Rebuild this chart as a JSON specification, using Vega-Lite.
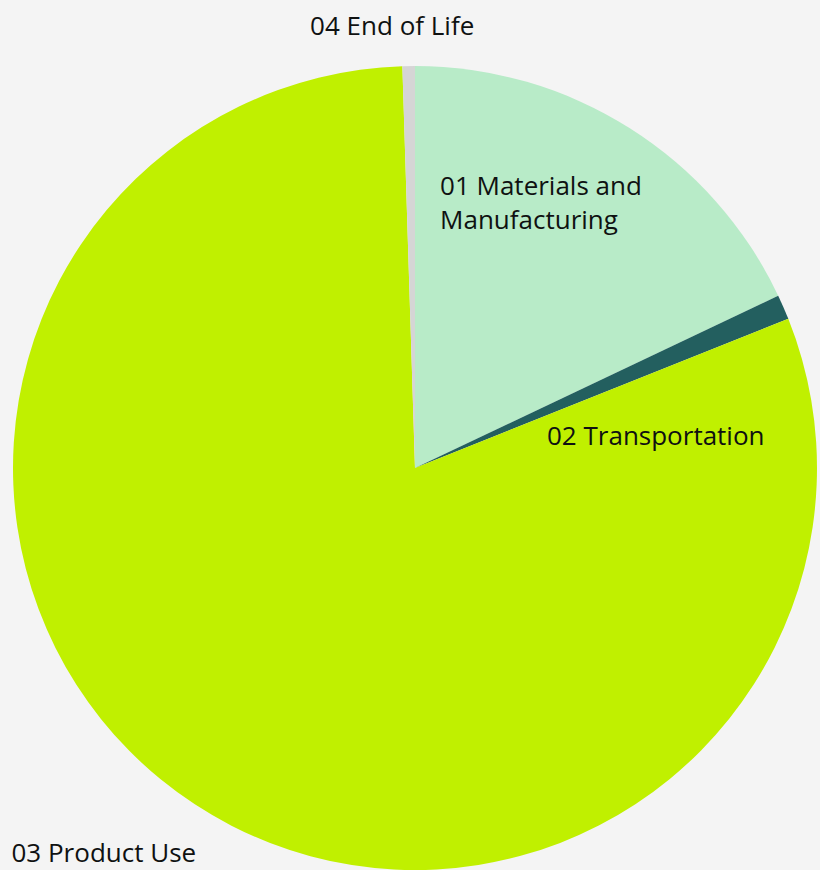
{
  "$schema": "https://vega.github.io/schema/vega-lite/v6.json",
  "width": 810,
  "height": 804,
  "autosize": "none",
  "padding": {"left": 10, "top": 66, "right": 0, "bottom": 0},
  "background": "#f4f4f4",
  "config": {"view": {"stroke": null}, "text": {"font": "Open Sans", "fontSize": 26, "color": "#0f1111"}},
  "data": {
    "values": [
      {"category": "01 Materials and Manufacturing", "share": 17.95},
      {"category": "02 Transportation", "share": 1.0},
      {"category": "03 Product Use", "share": 80.55},
      {"category": "04 End of Life", "share": 0.5}
    ]
  },
  "transform": [
    {"stack": "share", "groupby": [], "sort": [{"field": "category", "order": "ascending"}], "as": ["s0", "s1"]},
    {"calculate": "(datum.s0 + datum.s1) / 2", "as": "smid"},
    {"calculate": "datum.category === '01 Materials and Manufacturing' ? ['01 Materials and', 'Manufacturing'] : datum.category", "as": "label"}
  ],
  "layer": [
    {
      "mark": {"type": "arc", "outerRadius": 402, "stroke": null},
      "encoding": {
        "theta": {"field": "s0", "type": "quantitative", "scale": {"domain": [0, 100], "range": [0, 6.283185307179586]}},
        "theta2": {"field": "s1"},
        "color": {
          "field": "category",
          "type": "nominal",
          "scale": {
            "domain": ["01 Materials and Manufacturing", "02 Transportation", "03 Product Use", "04 End of Life"],
            "range": ["#b8ebc8", "#235f5f", "#c0f000", "#d5d5d5"]
          },
          "legend": null
        }
      }
    },
    {
      "transform": [{"filter": "datum.category === '01 Materials and Manufacturing'"}],
      "mark": {"type": "text", "radius": 323, "align": "left", "baseline": "alphabetic", "dx": -147.6, "lineHeight": 34},
      "encoding": {
        "theta": {"field": "smid", "type": "quantitative", "scale": {"domain": [0, 100], "range": [0, 6.283185307179586]}},
        "text": {"field": "label"}
      }
    },
    {
      "transform": [{"filter": "datum.category === '02 Transportation'"}],
      "mark": {"type": "text", "radius": 57.5, "align": "left", "baseline": "alphabetic", "dx": 79.3},
      "encoding": {
        "theta": {"field": "smid", "type": "quantitative", "scale": {"domain": [0, 100], "range": [0, 6.283185307179586]}},
        "text": {"field": "label"}
      }
    },
    {
      "transform": [{"filter": "datum.category === '03 Product Use'"}],
      "mark": {"type": "text", "radius": 470.9, "align": "left", "baseline": "alphabetic", "dx": -145.6},
      "encoding": {
        "theta": {"field": "smid", "type": "quantitative", "scale": {"domain": [0, 100], "range": [0, 6.283185307179586]}},
        "text": {"field": "label"}
      }
    },
    {
      "transform": [{"filter": "datum.category === '04 End of Life'"}],
      "mark": {"type": "text", "radius": 433.5, "align": "center", "baseline": "alphabetic", "dx": -16},
      "encoding": {
        "theta": {"field": "smid", "type": "quantitative", "scale": {"domain": [0, 100], "range": [0, 6.283185307179586]}},
        "text": {"field": "label"}
      }
    }
  ]
}
